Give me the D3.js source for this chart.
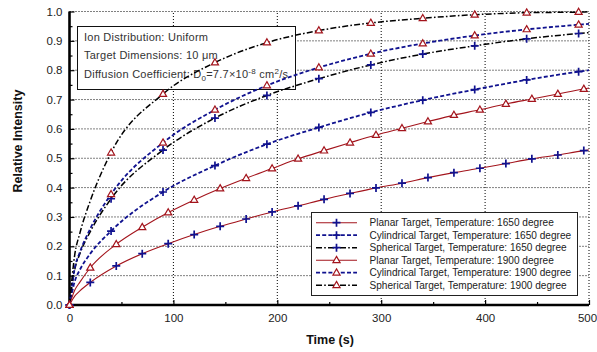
<!DOCTYPE html>
<html>
<head>
<meta charset="utf-8">
<script src="https://cdn.jsdelivr.net/npm/d3@7"></script>
<style>
  body { margin: 0; background: #fff; }
  svg { font-family: "Liberation Sans", Arial, sans-serif; }
</style>
</head>
<body>
<svg id="chart" width="597" height="352"></svg>
<script>
// planar targets: markers every 25 s starting at 20 s
const planarTimes = [0, 5, 10, 20, 45, 70, 95, 120, 145, 170, 195, 220, 245, 270, 295, 320, 345, 370, 395, 420, 445, 470, 495, 500]
const planarMarks = [0, 20, 45, 70, 95, 120, 145, 170, 195, 220, 245, 270, 295, 320, 345, 370, 395, 420, 445, 470, 495]
const planar1650 = [0, 0.030, 0.048, 0.077, 0.133, 0.175, 0.209, 0.240, 0.268, 0.293, 0.317, 0.338, 0.360, 0.380, 0.399, 0.415, 0.434, 0.451, 0.466, 0.482, 0.498, 0.511, 0.526, 0.528]
const planar1900 = [0, 0.050, 0.078, 0.127, 0.207, 0.265, 0.315, 0.358, 0.397, 0.432, 0.465, 0.498, 0.526, 0.553, 0.579, 0.602, 0.625, 0.647, 0.665, 0.685, 0.702, 0.719, 0.736, 0.739]

// cylindrical / spherical targets: markers every 50 s starting at 40 s
const curvedTimes = [0, 5, 10, 20, 40, 90, 140, 190, 240, 290, 340, 390, 440, 490, 500]
const curvedMarks = [0, 40, 90, 140, 190, 240, 290, 340, 390, 440, 490]
const cyl1650 = [0, 0.080, 0.120, 0.175, 0.252, 0.385, 0.475, 0.548, 0.605, 0.656, 0.698, 0.734, 0.767, 0.795, 0.800]
const cyl1900 = [0, 0.125, 0.180, 0.260, 0.377, 0.553, 0.665, 0.748, 0.809, 0.856, 0.891, 0.918, 0.939, 0.955, 0.958]
const sph1650 = [0, 0.120, 0.175, 0.250, 0.362, 0.528, 0.637, 0.714, 0.771, 0.818, 0.855, 0.883, 0.907, 0.925, 0.928]
const sph1900 = [0, 0.170, 0.245, 0.355, 0.519, 0.719, 0.826, 0.894, 0.935, 0.961, 0.977, 0.989, 0.996, 0.998, 0.999]

const xTicks = [0, 100, 200, 300, 400, 500]
const yTicks = [0, 0.1, 0.2, 0.3, 0.4, 0.5, 0.6, 0.7, 0.8, 0.9, 1.0]

const seriesNames = [
  "Planar Target, Temperature: 1650 degree",
  "Cylindrical Target, Temperature: 1650 degree",
  "Spherical Target, Temperature: 1650 degree",
  "Planar Target, Temperature: 1900 degree",
  "Cylindrical Target, Temperature: 1900 degree",
  "Spherical Target, Temperature: 1900 degree"
]

const RED = "#a3141c", BLUE = "#10128f", BLACK = "#000"

const styles = {
  planar: {stroke: RED, width: 1.1, dash: null},
  cyl: {stroke: BLUE, width: 1.8, dash: "4,2.2"},
  sph: {stroke: BLACK, width: 1.5, dash: "6,2.2,1.6,2.2"}
}

const series = [
  {name: seriesNames[0], t: planarTimes, v: planar1650, marks: planarMarks, kind: "planar", mark: "cross"},
  {name: seriesNames[1], t: curvedTimes, v: cyl1650, marks: curvedMarks, kind: "cyl", mark: "cross"},
  {name: seriesNames[2], t: curvedTimes, v: sph1650, marks: curvedMarks, kind: "sph", mark: "cross"},
  {name: seriesNames[3], t: planarTimes, v: planar1900, marks: planarMarks, kind: "planar", mark: "tri"},
  {name: seriesNames[4], t: curvedTimes, v: cyl1900, marks: curvedMarks, kind: "cyl", mark: "tri"},
  {name: seriesNames[5], t: curvedTimes, v: sph1900, marks: curvedMarks, kind: "sph", mark: "tri"}
]

const svg = d3.select("#chart")
const mLeft = 69.5, mRight = 589, mTop = 11.5, mBottom = 305

const x = d3.scaleLinear().domain([0, 500]).range([mLeft, mRight])
const y = d3.scaleLinear().domain([0, 1]).range([mBottom, mTop])

// dotted grid + top/right frame
const grid = svg.append("g").attr("stroke", "#000").attr("stroke-width", 1).attr("stroke-dasharray", "1,2")
grid.selectAll(".gx").data(xTicks.slice(1)).join("line")
  .attr("x1", d => x(d)).attr("x2", d => x(d)).attr("y1", mBottom).attr("y2", mTop)
grid.selectAll(".gy").data(yTicks.slice(1)).join("line")
  .attr("y1", d => y(d)).attr("y2", d => y(d)).attr("x1", mLeft).attr("x2", mRight)

// axes with inward ticks
const xAxis = svg.append("g").attr("transform", `translate(0,${mBottom})`)
  .call(d3.axisBottom(x).tickValues(xTicks).tickSize(-5).tickPadding(9).tickFormat(d3.format("d")))
const xMinor = svg.append("g").attr("transform", `translate(0,${mBottom})`)
  .call(d3.axisBottom(x).tickValues([50, 150, 250, 350, 450]).tickSize(-3).tickFormat(""))
const yAxis = svg.append("g").attr("transform", `translate(${mLeft},0)`)
  .call(d3.axisLeft(y).tickValues(yTicks).tickSize(-5).tickPadding(7).tickFormat(d3.format(".1f")))
const yMinor = svg.append("g").attr("transform", `translate(${mLeft},0)`)
  .call(d3.axisLeft(y).tickValues(d3.range(0.05, 1, 0.1)).tickSize(-3).tickFormat(""))

for (const g of [xAxis, yAxis, xMinor, yMinor]) {
  g.select(".domain").remove()
  g.selectAll(".tick line").attr("stroke", "#000").attr("stroke-width", 1.2)
  g.selectAll("text").attr("font-size", 11.5).attr("fill", "#222")
    .attr("font-family", "Liberation Sans, Arial, sans-serif")
}
// keep the last x label inside the page
xAxis.selectAll(".tick text").filter(d => d === 500).attr("dx", -2)

svg.append("line").attr("x1", mLeft).attr("x2", mLeft).attr("y1", mTop).attr("y2", mBottom + 1.2)
  .attr("stroke", "#000").attr("stroke-width", 2.6)
svg.append("line").attr("x1", mLeft - 1.2).attr("x2", mRight).attr("y1", mBottom).attr("y2", mBottom)
  .attr("stroke", "#000").attr("stroke-width", 2.6)

// axis titles
svg.append("text").attr("x", 330).attr("y", 344).attr("text-anchor", "middle")
  .attr("font-size", 12.5).attr("font-weight", "bold").attr("fill", "#111").text("Time (s)")
svg.append("text").attr("transform", "translate(22,141) rotate(-90)")
  .attr("text-anchor", "middle").attr("font-size", 12.5).attr("font-weight", "bold").attr("fill", "#111")
  .text("Relative Intensity")

// info box (drawn under the curves)
const info = svg.append("g")
info.append("rect").attr("x", 77.5).attr("y", 26.5).attr("width", 218).attr("height", 63)
  .attr("fill", "#fff").attr("stroke", "#111").attr("stroke-width", 1)
const infoText = info.append("g").attr("font-size", 11).attr("letter-spacing", 0.25).attr("fill", "#333")
infoText.append("text").attr("x", 84).attr("y", 41).text("Ion Distribution: Uniform")
infoText.append("text").attr("x", 84).attr("y", 58.5).text("Target Dimensions: 10 \u03bcm")
const dt = infoText.append("text").attr("x", 84).attr("y", 78)
dt.append("tspan").text("Diffusion Coefficient: D")
dt.append("tspan").attr("font-size", 8).attr("dy", 2.5).text("0")
dt.append("tspan").attr("dy", -2.5).text("=7.7\u00d710")
dt.append("tspan").attr("font-size", 8).attr("dy", -4.5).text("-8")
dt.append("tspan").attr("dy", 4.5).text(" cm")
dt.append("tspan").attr("font-size", 8).attr("dy", -4.5).text("2")
dt.append("tspan").attr("dy", 4.5).text("/s")

// markers
const crossPath = "M-4,0H4M0,-4V4"
const triPath = d3.symbol(d3.symbolTriangle, 22)()

function drawMarker(g, kind, px, py) {
  if (kind === "cross") {
    g.append("path").attr("transform", `translate(${px},${py})`).attr("d", crossPath)
      .attr("stroke", BLUE).attr("stroke-width", 1.7).attr("fill", "none")
  } else {
    g.append("path").attr("transform", `translate(${px},${py + 0.3})`).attr("d", triPath)
      .attr("stroke", RED).attr("stroke-width", 1.2).attr("fill", "#fff")
  }
}

const line = d3.line().x(d => x(d[0])).y(d => y(d[1])).curve(d3.curveMonotoneX)

const plot = svg.append("g")
series.forEach(s => {
  const pts = s.t.map((t, i) => [t, s.v[i]])
  const st = styles[s.kind]
  plot.append("path").datum(pts).attr("d", line).attr("fill", "none")
    .attr("stroke", st.stroke).attr("stroke-width", st.width)
    .attr("stroke-dasharray", st.dash)
})
series.forEach(s => {
  const mg = plot.append("g")
  s.marks.forEach(t => {
    const i = s.t.indexOf(t)
    drawMarker(mg, s.mark, x(t), y(s.v[i]))
  })
})

// legend
const lg = svg.append("g")
lg.append("rect").attr("x", 311.5).attr("y", 212.5).attr("width", 266).attr("height", 83)
  .attr("fill", "#fff").attr("stroke", "#222").attr("stroke-width", 1)
series.forEach((s, i) => {
  const ly = 222.7 + i * 12.5
  const st = styles[s.kind]
  lg.append("line").attr("x1", 316).attr("x2", 357).attr("y1", ly).attr("y2", ly)
    .attr("stroke", st.stroke).attr("stroke-width", st.width).attr("stroke-dasharray", st.dash)
  drawMarker(lg, s.mark, 336.5, ly)
  lg.append("text").attr("x", 369.5).attr("y", ly + 3.7).attr("font-size", 10.1)
    .attr("fill", "#222").text(s.name)
})
</script>
</body>
</html>
